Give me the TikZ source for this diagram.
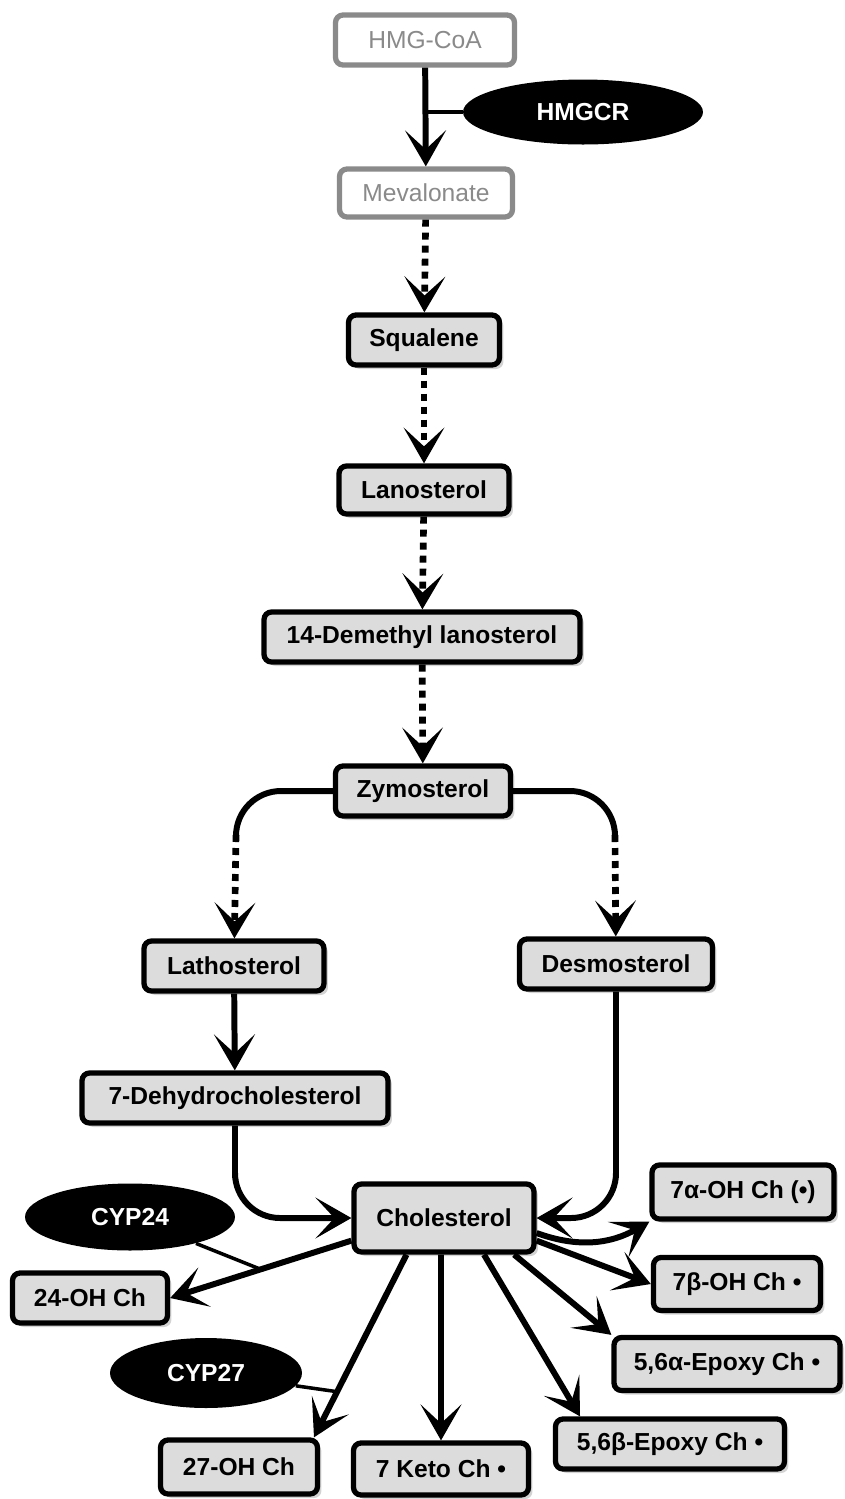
\documentclass[tikz,border=0pt]{standalone}
\usepackage{fontspec}
\setmainfont{Liberation Sans}
\usetikzlibrary{arrows.meta,shapes.geometric,shadows}
\definecolor{boxgrey}{HTML}{DCDCDC}
\definecolor{pregrey}{HTML}{8A8A8A}

\begin{document}
\begin{tikzpicture}[
    x=0.02cm, y=-0.02cm,
    sterol/.style={rectangle, draw, line width=3pt, rounded corners=1.5mm,
        fill=boxgrey, minimum height=1.0cm, inner sep=2pt,
        font=\fontsize{14}{16}\selectfont\bfseries,
        drop shadow={opacity=0.35, shadow xshift=0.8mm, shadow yshift=-0.8mm}},
    precursor/.style={rectangle, draw=pregrey, line width=3pt, rounded corners=1.5mm,
        fill=white, text=pregrey, minimum height=1.0cm, inner sep=2pt,
        font=\fontsize{14}{16}\selectfont},
    enzyme/.style={ellipse, fill=black, text=white, inner sep=0pt,
        font=\fontsize{14}{16}\selectfont\bfseries},
    conv/.style={line width=3.4pt, -{Stealth[length=0.72cm, width=0.82cm, inset=0.38cm]}},
    multi/.style={line width=3.8pt, dash pattern=on 0.14cm off 0.12cm,
        -{Stealth[length=0.72cm, width=0.82cm, inset=0.38cm, line width=0pt]}},
    link/.style={line width=3.4pt, rounded corners=0.9cm},
    inhibit/.style={line width=2pt}
]
\useasboundingbox (0,0) rectangle (845,1499);

% precursors
\node (HMGCoA) [precursor, minimum width=3.58cm] at (425,40) {HMG-CoA};
\node (Mevalonate) [precursor, minimum width=3.46cm, minimum height=0.96cm] at (426,193) {Mevalonate};
\node (HMGCR) [enzyme, minimum width=4.8cm, minimum height=1.3cm] at (583,112) {HMGCR};

% main pathway
\node (Squalene) [sterol, minimum width=3.02cm] at (424,340) {Squalene};
\node (Lanosterol) [sterol, minimum width=3.4cm, minimum height=0.96cm] at (424,490) {Lanosterol};
\node (Demethyl) [sterol, minimum width=6.32cm] at (422,637) {14-Demethyl lanosterol};
\node (Zymosterol) [sterol, minimum width=3.5cm] at (423,791) {Zymosterol};
\node (Lathosterol) [sterol, minimum width=3.6cm] at (234,966) {Lathosterol};
\node (Desmosterol) [sterol, minimum width=3.86cm] at (616,964) {Desmosterol};
\node (Dehydro) [sterol, minimum width=6.12cm] at (235,1098) {7-Dehydrocholesterol};
\node (Cholesterol) [sterol, minimum width=3.6cm, minimum height=1.36cm] at (444,1218) {Cholesterol};

% oxysterols
\node (CYP24) [enzyme, minimum width=4.2cm, minimum height=1.34cm] at (130,1217) {CYP24};
\node (CYP27) [enzyme, minimum width=3.84cm, minimum height=1.4cm] at (206,1373) {CYP27};
\node (OH24) [sterol, minimum width=3.1cm] at (90,1298) {24-OH Ch};
\node (OH7a) [sterol, minimum width=3.64cm, minimum height=1.08cm] at (743,1192) {7α-OH Ch (•)};
\node (OH7b) [sterol, minimum width=3.34cm, minimum height=1.06cm] at (737,1284) {7β-OH Ch •};
\node (Epoxy56a) [sterol, minimum width=4.52cm, minimum height=1.06cm] at (727,1364) {5,6α-Epoxy Ch •};
\node (Epoxy56b) [sterol, minimum width=4.58cm] at (670,1444) {5,6β-Epoxy Ch •};
\node (OH27) [sterol, minimum width=3.14cm, minimum height=1.08cm] at (239,1467) {27-OH Ch};
\node (Keto7) [sterol, minimum width=3.5cm, minimum height=1.04cm] at (441,1469) {7 Keto Ch •};

% top steps
\draw[conv] (HMGCoA) -- (Mevalonate);
\draw[inhibit, line width=2.6pt] (HMGCR.west -| HMGCoA) -- (HMGCR.west);
\draw[multi] (Mevalonate) -- (Squalene);
\draw[multi] (Squalene) -- (Lanosterol);
\draw[multi] (Lanosterol) -- (Demethyl);
\draw[multi] (Demethyl) -- (Zymosterol);

% branch at zymosterol
\coordinate (ZymL) at (236,835);
\coordinate (ZymR) at (615,835);
\draw[link] (Zymosterol.west) -| (ZymL);
\draw[link] (Zymosterol.east) -| (ZymR);
\draw[multi] (ZymL) -- (Lathosterol);
\draw[multi] (ZymR) -- (Desmosterol);
\draw[conv] (Lathosterol) -- (Dehydro);
\draw[conv, rounded corners=0.9cm] (Dehydro.south) |- (Cholesterol.west);
\draw[conv, rounded corners=0.9cm] (Desmosterol.south) |- (Cholesterol.east);

% oxidation products
\draw[conv] ([yshift=-0.3cm]Cholesterol.east) to[out=-20, in=210] (OH7a.south west);
\draw[conv] ([yshift=0.28cm]Cholesterol.south east) -- (OH7b.west);
\draw[conv] ([xshift=-0.45cm]Cholesterol.south east) -- (Epoxy56a.north west);
\draw[conv] ([xshift=0.8cm]Cholesterol.south) -- ([xshift=-1.8cm]Epoxy56b.north);
\draw[conv] ([xshift=-0.06cm]Cholesterol.south) -- (Keto7.north);
\draw[conv] ([xshift=-0.75cm]Cholesterol.south) -- coordinate[pos=0.75] (Hit27) ([xshift=1.5cm]OH27.north);
\draw[conv] ([yshift=0.28cm]Cholesterol.south west) -- coordinate[pos=0.5] (Hit24) (OH24.east);
\draw[inhibit] (CYP24) -- (Hit24);
\draw[inhibit] (CYP27) -- (Hit27);

\end{tikzpicture}
\end{document}
